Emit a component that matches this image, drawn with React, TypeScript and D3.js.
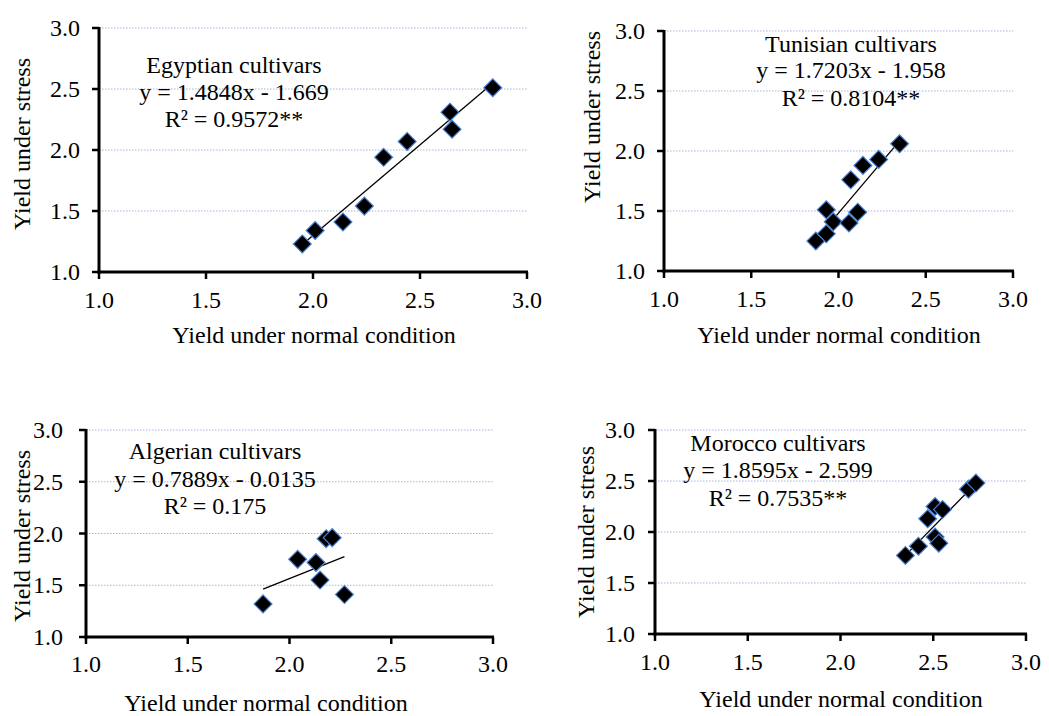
import * as d3 from "d3";
import { useEffect, useRef } from "react";

const egyptianX = [1.95, 2.01, 2.14, 2.24, 2.33, 2.44, 2.64, 2.65, 2.84];
const egyptianY = [1.23, 1.34, 1.41, 1.54, 1.94, 2.07, 2.31, 2.17, 2.51];

const tunisianX = [1.87, 1.93, 1.93, 1.97, 2.06, 2.11, 2.07, 2.14, 2.23, 2.35];
const tunisianY = [1.25, 1.31, 1.51, 1.41, 1.4, 1.49, 1.76, 1.88, 1.93, 2.06];

const algerianX = [1.87, 2.04, 2.13, 2.15, 2.18, 2.21, 2.27];
const algerianY = [1.32, 1.75, 1.72, 1.55, 1.95, 1.96, 1.41];

const moroccoX = [2.35, 2.42, 2.47, 2.51, 2.55, 2.51, 2.53, 2.69, 2.73];
const moroccoY = [1.77, 1.86, 2.13, 2.25, 2.22, 1.95, 1.89, 2.42, 2.48];

const panelTitles = ["Egyptian cultivars", "Tunisian cultivars", "Algerian cultivars", "Morocco cultivars"];
const equations = ["y = 1.4848x - 1.669", "y = 1.7203x - 1.958", "y = 0.7889x - 0.0135", "y = 1.8595x - 2.599"];
const rSquared = ["R² = 0.9572**", "R² = 0.8104**", "R² = 0.175", "R² = 0.7535**"];
const slopes = [1.4848, 1.7203, 0.7889, 1.8595];
const intercepts = [-1.669, -1.958, -0.0135, -2.599];

const tickValues = [1.0, 1.5, 2.0, 2.5, 3.0];
const gridValues = [1.5, 2.0, 2.5, 3.0];
const xTitle = "Yield under normal condition";
const yTitle = "Yield under stress";

const FONT = "Liberation Serif, Times New Roman, DejaVu Serif, serif";

// page layout for each panel
const layouts = [
    { x0: 99, x1: 527, yT: 28, yB: 272, yLabX: 30, yLabY: 144, tickR: 80, xTickY: 308, xTitX: 314, xTitY: 343, annX: 234, annY: [73, 100, 127] },
    { x0: 664, x1: 1013, yT: 31, yB: 271, yLabX: 600, yLabY: 117, tickR: 645, xTickY: 307, xTitX: 839, xTitY: 343, annX: 851, annY: [52, 78, 106] },
    { x0: 86, x1: 493, yT: 430, yB: 637, yLabX: 30, yLabY: 536, tickR: 63, xTickY: 672, xTitX: 266, xTitY: 711, annX: 215, annY: [459, 487, 514] },
    { x0: 655, x1: 1026, yT: 430, yB: 634, yLabX: 594, yLabY: 532, tickR: 635, xTickY: 670, xTitX: 841, xTitY: 707, annX: 778, annY: [451, 478, 506] },
];

const App = () => {
    const ref = useRef(null);

    useEffect(() => {
        const svg = d3.select(ref.current);
        svg.selectAll("*").remove();

        const series = [
            [egyptianX, egyptianY],
            [tunisianX, tunisianY],
            [algerianX, algerianY],
            [moroccoX, moroccoY],
        ];

        series.forEach(([xs, ys], i) => {
            const L = layouts[i];
            const x = d3.scaleLinear().domain([1, 3]).range([L.x0, L.x1]);
            const y = d3.scaleLinear().domain([1, 3]).range([L.yB, L.yT]);
            const g = svg.append("g").attr("font-family", FONT).attr("font-size", 24);

            // gridlines
            g.selectAll(".grid")
                .data(gridValues)
                .join("line")
                .attr("x1", L.x0)
                .attr("x2", L.x1)
                .attr("y1", (d) => y(d))
                .attr("y2", (d) => y(d))
                .attr("stroke", "#a3b6d8")
                .attr("stroke-width", 1)
                .attr("stroke-dasharray", "1.5,1.5");

            // axes
            g.append("line").attr("x1", L.x0).attr("x2", L.x0).attr("y1", L.yT - 1).attr("y2", L.yB + 1.5)
                .attr("stroke", "#000").attr("stroke-width", 3);
            g.append("line").attr("x1", L.x0 - 1.5).attr("x2", L.x1 + 1).attr("y1", L.yB).attr("y2", L.yB)
                .attr("stroke", "#000").attr("stroke-width", 3);

            g.selectAll(".ytick")
                .data(tickValues)
                .join("line")
                .attr("x1", L.x0 - 7)
                .attr("x2", L.x0)
                .attr("y1", (d) => y(d))
                .attr("y2", (d) => y(d))
                .attr("stroke", "#000")
                .attr("stroke-width", 2.5);
            g.selectAll(".xtick")
                .data(tickValues)
                .join("line")
                .attr("x1", (d) => x(d))
                .attr("x2", (d) => x(d))
                .attr("y1", L.yB)
                .attr("y2", L.yB + 7)
                .attr("stroke", "#000")
                .attr("stroke-width", 2.5);

            g.selectAll(".ylab")
                .data(tickValues)
                .join("text")
                .attr("x", L.tickR)
                .attr("y", (d) => y(d) + 8)
                .attr("text-anchor", "end")
                .text((d) => d3.format(".1f")(d));
            g.selectAll(".xlab")
                .data(tickValues)
                .join("text")
                .attr("x", (d) => x(d))
                .attr("y", L.xTickY)
                .attr("text-anchor", "middle")
                .text((d) => d3.format(".1f")(d));

            // axis titles
            g.append("text")
                .attr("transform", `translate(${L.yLabX},${L.yLabY}) rotate(-90)`)
                .attr("text-anchor", "middle")
                .text(yTitle);
            g.append("text")
                .attr("x", L.xTitX)
                .attr("y", L.xTitY)
                .attr("text-anchor", "middle")
                .text(xTitle);

            // annotation
            [panelTitles[i], equations[i], rSquared[i]].forEach((t, k) => {
                g.append("text")
                    .attr("x", L.annX)
                    .attr("y", L.annY[k])
                    .attr("text-anchor", "middle")
                    .text(t);
            });

            // trend line over the data range
            const [xmin, xmax] = d3.extent(xs);
            g.append("line")
                .attr("x1", x(xmin))
                .attr("x2", x(xmax))
                .attr("y1", y(slopes[i] * xmin + intercepts[i]))
                .attr("y2", y(slopes[i] * xmax + intercepts[i]))
                .attr("stroke", "#000")
                .attr("stroke-width", 1.3);

            // diamond markers
            const sym = d3.symbol().type(d3.symbolSquare).size(160);
            g.selectAll(".pt")
                .data(xs.map((v, j) => [v, ys[j]]))
                .join("path")
                .attr("d", sym)
                .attr("transform", (d) => `translate(${x(d[0])},${y(d[1])}) rotate(45)`)
                .attr("fill", "#000")
                .attr("stroke", "#4a7fd0")
                .attr("stroke-width", 1.2);
        });
    }, []);

    return (
        <svg
            ref={ref}
            width={1049}
            height={716}
            style={{ position: "absolute", left: 0, top: 0, background: "#fff" }}
        />
    );
};

export default App;
